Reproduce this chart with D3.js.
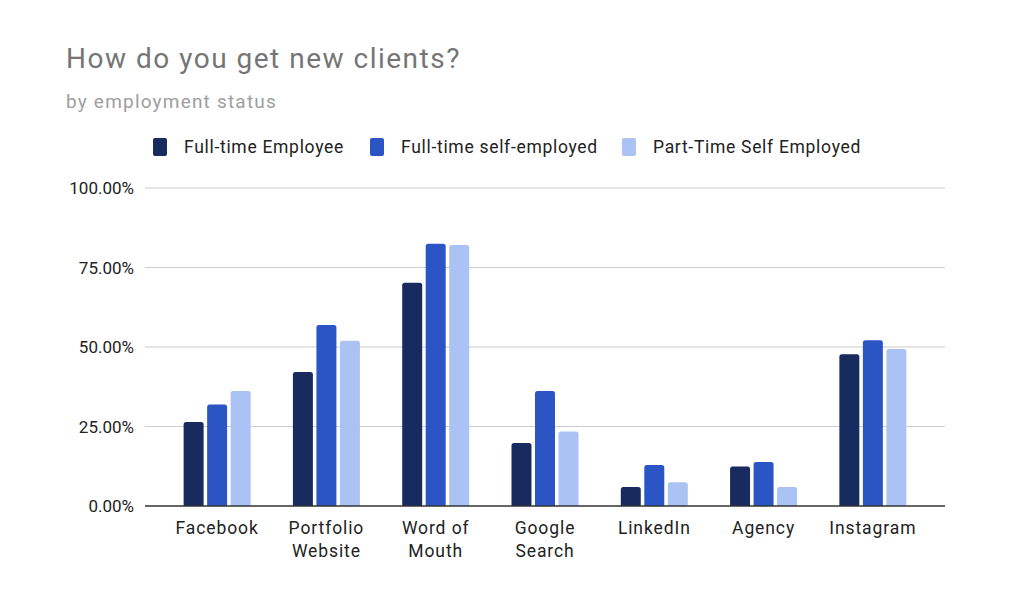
<!DOCTYPE html>
<html>
<head>
<meta charset="utf-8">
<script src="https://cdn.jsdelivr.net/npm/d3@7/dist/d3.min.js"></script>
<style>
  html, body { margin: 0; padding: 0; background: #fff; }
  svg { display: block; font-family: Roboto, "Noto Sans", sans-serif; }
</style>
</head>
<body>
<script>
const categories = [["Facebook"], ["Portfolio", "Website"], ["Word of", "Mouth"], ["Google", "Search"], ["LinkedIn"], ["Agency"], ["Instagram"]];
const seriesNames = ["Full-time Employee", "Full-time self-employed", "Part-Time Self Employed"];
const fullTimeEmployee = [26.4, 42.1, 70.2, 19.8, 6.0, 12.4, 47.7];
const fullTimeSelfEmployed = [31.9, 56.9, 82.5, 36.2, 12.9, 13.8, 52.1];
const partTimeSelfEmployed = [36.2, 52.0, 82.1, 23.4, 7.5, 6.0, 49.4];
const yTicks = [0, 25, 50, 75, 100];
const colors = ["#172b5f", "#2b55c4", "#abc2f5"];

(function () {
const seriesValues = [fullTimeEmployee, fullTimeSelfEmployed, partTimeSelfEmployed];
const W = 1017, H = 611;
const svg = d3.select("body").append("svg").attr("width", W).attr("height", H);

// Title
svg.append("text").attr("x", 66).attr("y", 68).attr("fill", "#757575")
  .attr("font-size", 28).attr("letter-spacing", 1.5).text("How do you get new clients?");
svg.append("text").attr("x", 66).attr("y", 108).attr("fill", "#9e9e9e")
  .attr("font-size", 19).attr("letter-spacing", 1.2).text("by employment status");

// Legend
const legendX = [153, 370, 622];
const legend = svg.append("g");
seriesNames.forEach((n, i) => {
  legend.append("rect").attr("x", legendX[i]).attr("y", 138).attr("width", 14).attr("height", 18)
    .attr("rx", 2).attr("fill", colors[i]);
  legend.append("text").attr("x", legendX[i] + 31).attr("y", 153).attr("font-size", 17.5)
    .attr("letter-spacing", 0.7).attr("fill", "#222").text(n);
});

// Scales
const pLeft = 145, pRight = 945, pTop = 188, pBottom = 506;
const y = d3.scaleLinear().domain([0, 100]).range([pBottom, pTop]);
const x0 = d3.scaleBand().domain(d3.range(categories.length)).range([pLeft, pRight])
  .paddingInner(0).paddingOuter(0.16);
const groupW = 67;
const x1 = d3.scaleBand().domain(d3.range(seriesNames.length)).range([0, groupW]).paddingInner(0.15);

// Grid
const grid = svg.append("g");
yTicks.forEach(t => {
  if (t === 0) return;
  grid.append("line").attr("x1", pLeft).attr("x2", pRight).attr("y1", y(t)).attr("y2", y(t))
    .attr("stroke", "#cccccc").attr("stroke-width", 1.2);
});

// Y axis labels
const yAxis = d3.axisLeft(y).tickValues(yTicks).tickSize(0).tickPadding(0)
  .tickFormat(d => d3.format(".2f")(d) + "%");
const yg = svg.append("g").attr("transform", `translate(${pLeft - 11},0)`).call(yAxis);
yg.select(".domain").remove();
yg.selectAll("text").attr("font-size", 17).attr("fill", "#222").attr("font-family", "Roboto, sans-serif")
  .attr("dy", "0.35em");

// Bars
function topRounded(x, yTop, w, h, r) {
  r = Math.min(r, h, w / 2);
  return `M${x},${yTop + h}V${yTop + r}Q${x},${yTop} ${x + r},${yTop}H${x + w - r}Q${x + w},${yTop} ${x + w},${yTop + r}V${yTop + h}Z`;
}
const bars = svg.append("g");
categories.forEach((c, ci) => {
  const gx = x0(ci) + (x0.bandwidth() - groupW) / 2;
  seriesValues.forEach((vals, si) => {
    const v = vals[ci];
    const bx = gx + x1(si);
    bars.append("path")
      .attr("d", topRounded(bx, y(v), x1.bandwidth(), y(0) - y(v), 2.5))
      .attr("fill", colors[si]);
  });
});

// Baseline
svg.append("line").attr("x1", pLeft).attr("x2", pRight).attr("y1", y(0)).attr("y2", y(0))
  .attr("stroke", "#333").attr("stroke-width", 1.5);

// X labels
const xl = svg.append("g");
categories.forEach((c, ci) => {
  const cx = x0(ci) + x0.bandwidth() / 2;
  const t = xl.append("text").attr("text-anchor", "middle").attr("font-size", 17.5)
    .attr("letter-spacing", 0.9).attr("fill", "#222");
  c.forEach((line, li) => {
    t.append("tspan").attr("x", cx).attr("y", 534 + li * 23).text(line);
  });
});
})();
</script>
</body>
</html>
